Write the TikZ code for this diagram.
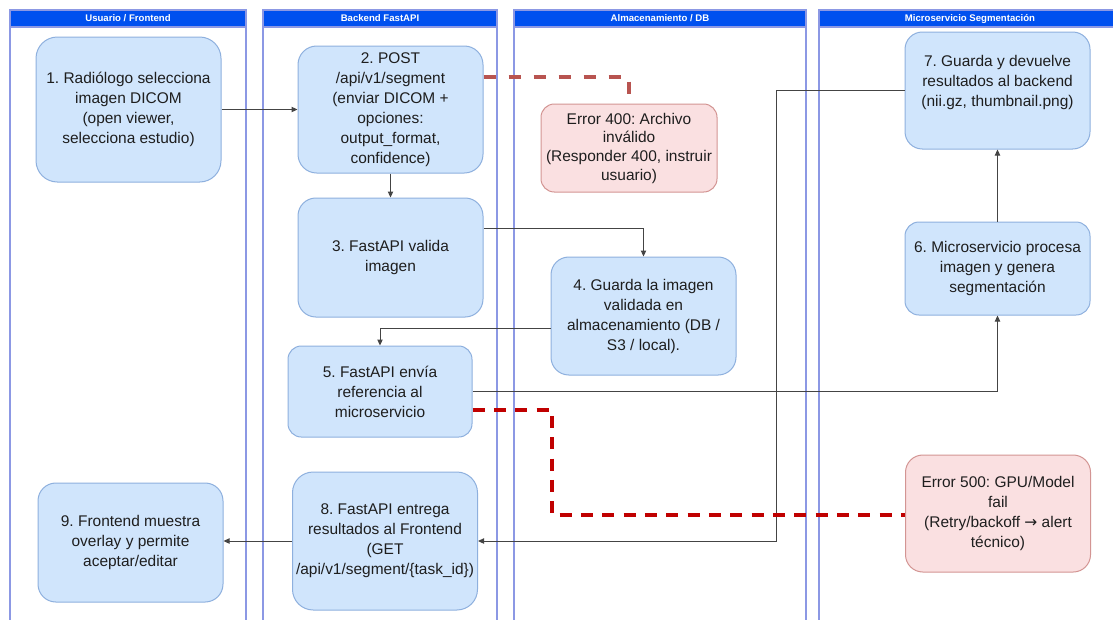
\documentclass[tikz,border=0pt]{standalone}
\usepackage{fontspec}
\setmainfont{Liberation Sans}
\usetikzlibrary{arrows.meta,calc}
\definecolor{boxfill}{HTML}{D0E5FC}
\definecolor{boxline}{HTML}{8EB0DE}
\definecolor{errfill}{HTML}{FAE0E1}
\definecolor{errline}{HTML}{D39593}
\definecolor{lanecol}{HTML}{8C98E4}
\definecolor{headcol}{HTML}{0050EF}
\definecolor{conncol}{HTML}{444444}
\definecolor{redA}{HTML}{B85450}
\definecolor{redB}{HTML}{C00000}
\definecolor{txtcol}{HTML}{1E1E1E}
\frenchspacing
\begin{document}
\begin{tikzpicture}[x=0.75pt,y=-0.75pt,
  lane/.style={draw=lanecol, line width=1pt},
  head/.style={draw=lanecol, fill=headcol, line width=0.8pt, text=white, inner sep=0pt,
    minimum height=12.75pt, text height=5.2pt, text depth=1.4pt,
    font=\fontsize{7.2}{8}\selectfont\bfseries},
  box/.style={draw=boxline, fill=boxfill, line width=0.75pt, rounded corners=#1,
    inner sep=0pt, align=center, text=txtcol, font=\fontsize{11.6}{15}\selectfont},
  errbox/.style={box=#1, draw=errline, fill=errfill},
  conn/.style={draw=conncol, line width=0.75pt, -{Triangle[length=4.5pt,width=4pt]}},
  errA/.style={draw=redA, line width=2.4pt, dash pattern=on 9pt off 9.75pt},
  errB/.style={draw=redB, line width=2.4pt, dash pattern=on 9pt off 7pt}
]
\useasboundingbox (0,0) rectangle (1113,619);
\fill[white] (0,0) rectangle (1113,619);

% lanes
\draw[lane] (10,10) rectangle (246,640);
\draw[lane] (263,10) rectangle (497,640);
\draw[lane] (514,10) rectangle (806,640);
\draw[lane] (819,10) rectangle (1121,640);
\node[head, minimum width=177pt] (h1) at (128,18.5) {Usuario / Frontend};
\node[head, minimum width=175.5pt] (h2) at (380,18.5) {Backend FastAPI};
\node[head, minimum width=219pt] (h3) at (660,18.5) {Almacenamiento / DB};
\node[head, minimum width=226.5pt] (h4) at (970,18.5) {Microservicio Segmentación};

% boxes
\node[box=16pt, minimum width=138.75pt, minimum height=108.75pt] (b1) at (128.5,109.5)
  {1. Radiólogo selecciona\\imagen DICOM\\(open viewer,\\selecciona estudio)};
\node[box=14pt, minimum width=138.75pt, minimum height=95.25pt] (b2) at (390.5,109.5)
  {2. POST\\/api/v1/segment\\(enviar DICOM +\\opciones:\\output\_format,\\confidence)};
\node[errbox=10pt, minimum width=132pt, minimum height=66pt,
  font=\fontsize{11.6}{14}\selectfont] (e400) at (629,148)
  {Error 400: Archivo\\inválido\\(Responder 400, instruir\\usuario)};
\node[box=13.4pt, minimum width=138.75pt, minimum height=89.25pt] (b3) at (390.5,257.5)
  {3. FastAPI valida\\imagen};
\node[box=13.4pt, minimum width=138.75pt, minimum height=88.5pt] (b4) at (643.5,316)
  {4. Guarda la imagen\\validada en\\almacenamiento (DB /\\S3 / local).};
\node[box=10pt, minimum width=138pt, minimum height=68.25pt] (b5) at (380,391.5)
  {5. FastAPI envía\\referencia al\\microservicio};
\node[box=15.5pt, minimum width=138.75pt, minimum height=103.5pt] (b8) at (385,541)
  {8. FastAPI entrega\\resultados al Frontend\\(GET\\/api/v1/segment/\{task\_id\})};
\node[box=13.4pt, minimum width=138.75pt, minimum height=89.25pt] (b9) at (130.5,542.5)
  {9. Frontend muestra\\overlay y permite\\aceptar/editar};
\node[box=13pt, minimum width=138.75pt, minimum height=87.75pt] (b7) at (997.5,90.5)
  {7. Guarda y devuelve\\resultados al backend\\(nii.gz, thumbnail.png)\\ \mbox{}};
\node[box=10.5pt, minimum width=138.75pt, minimum height=69.75pt] (b6) at (997.5,268.5)
  {6. Microservicio procesa\\imagen y genera\\segmentación};
\node[errbox=13pt, minimum width=138.75pt, minimum height=87.75pt] (e500) at (998,513.5)
  {Error 500: GPU/Model\\fail\\(Retry/backoff {\fontspec{DejaVu Sans}\fontsize{11.6}{15}\selectfont →} alert\\técnico)};

% connectors
\coordinate (k78) at (776,541);
\coordinate (k5) at (552,515);
\draw[conn] (b1.east) -- (b2.west);
\draw[conn] (b2.south) -- (b3.north);
\draw[conn] ($(b3.east)+(0,-29.5)$) -| (b4.north);
\draw[conn] ($(b4.west)+(0,12)$) -| (b5.north);
\draw[conn] (b5.east) -| (b6.south);
\draw[conn] (b6.north) -- (b7.south);
\draw[conn] (b7.west) -| (k78) -- (b8.east);
\draw[conn] (b8.west) -- (b8.west -| b9.east);
\draw[errA] ($(b2.east)+(0,-32.5)$) -| ($(e400.north)+(0,-9)$);
\draw[errB] ($(b5.east)+(0,18.5)$) -| (k5) -- (k5 -| e500.west);
\end{tikzpicture}
\end{document}
